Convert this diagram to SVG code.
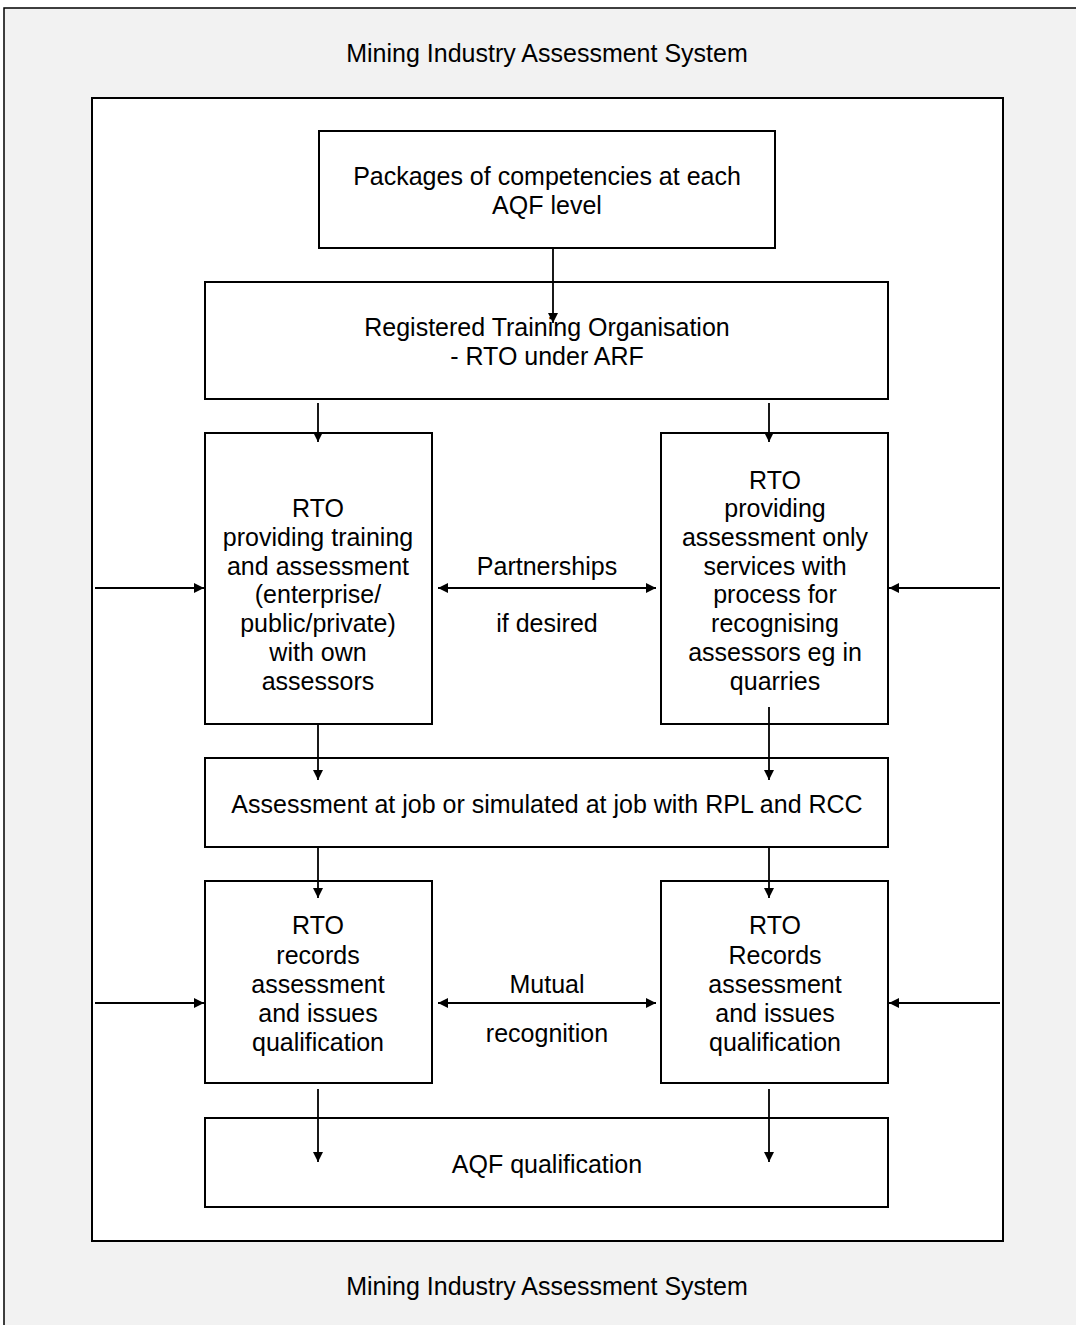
<svg xmlns="http://www.w3.org/2000/svg" width="1076" height="1325" viewBox="0 0 1076 1325">
<style>
  .box { fill: #ffffff; stroke: #000000; stroke-width: 2; }
  .t { font-family: "Liberation Sans", Arial, sans-serif; font-size: 25px; fill: #000000; text-anchor: middle; }
  .title { font-family: "Liberation Sans", Arial, sans-serif; font-size: 25px; fill: #000000; text-anchor: middle; }
  .c { stroke: #000000; stroke-width: 1.8; fill: none; }
</style>
<defs>
  <marker id="ah" viewBox="0 0 10 10" refX="10" refY="5" markerWidth="11" markerHeight="10" markerUnits="userSpaceOnUse" orient="auto-start-reverse">
    <path d="M0,0 L10,5 L0,10 z" fill="#000000"/>
  </marker>
</defs>
<rect x="0" y="0" width="1076" height="1325" fill="#ffffff"/>
<rect id="frame" x="4" y="8" width="1080" height="1330" fill="#f2f2f2" stroke="#000000" stroke-width="1.5"/>
<text class="title" x="547" y="62">Mining Industry Assessment System</text>
<rect id="system" x="92" y="98" width="911" height="1143" class="box"/>
<g id="n-packages">
  <rect class="box" x="319" y="131" width="456" height="117"/>
  <text class="t" x="547" y="185">Packages of competencies at each</text>
  <text class="t" x="547" y="214">AQF level</text>
</g>
<g id="n-rto">
  <rect class="box" x="205" y="282" width="683" height="117"/>
  <text class="t" x="547" y="336">Registered Training Organisation</text>
  <text class="t" x="547" y="365">- RTO under ARF</text>
</g>
<g id="n-rto-training">
  <rect class="box" x="205" y="433" width="227" height="291"/>
  <text class="t" x="318" y="517">RTO</text>
  <text class="t" x="318" y="546">providing training</text>
  <text class="t" x="318" y="575">and assessment</text>
  <text class="t" x="318" y="603">(enterprise/</text>
  <text class="t" x="318" y="632">public/private)</text>
  <text class="t" x="318" y="661">with own</text>
  <text class="t" x="318" y="690">assessors</text>
</g>
<g id="n-rto-assessment">
  <rect class="box" x="661" y="433" width="227" height="291"/>
  <text class="t" x="775" y="489">RTO</text>
  <text class="t" x="775" y="517">providing</text>
  <text class="t" x="775" y="546">assessment only</text>
  <text class="t" x="775" y="575">services with</text>
  <text class="t" x="775" y="603">process for</text>
  <text class="t" x="775" y="632">recognising</text>
  <text class="t" x="775" y="661">assessors eg in</text>
  <text class="t" x="775" y="690">quarries</text>
</g>
<g id="n-assessment">
  <rect class="box" x="205" y="758" width="683" height="89"/>
  <text class="t" x="547" y="813">Assessment at job or simulated at job with RPL and RCC</text>
</g>
<g id="n-records-left">
  <rect class="box" x="205" y="881" width="227" height="202"/>
  <text class="t" x="318" y="934">RTO</text>
  <text class="t" x="318" y="964">records</text>
  <text class="t" x="318" y="993">assessment</text>
  <text class="t" x="318" y="1022">and issues</text>
  <text class="t" x="318" y="1051">qualification</text>
</g>
<g id="n-records-right">
  <rect class="box" x="661" y="881" width="227" height="202"/>
  <text class="t" x="775" y="934">RTO</text>
  <text class="t" x="775" y="964">Records</text>
  <text class="t" x="775" y="993">assessment</text>
  <text class="t" x="775" y="1022">and issues</text>
  <text class="t" x="775" y="1051">qualification</text>
</g>
<g id="n-aqf">
  <rect class="box" x="205" y="1118" width="683" height="89"/>
  <text class="t" x="547" y="1173">AQF qualification</text>
</g>
<text class="title" x="547" y="1295">Mining Industry Assessment System</text>
<g id="connectors">
  <line class="c" x1="553" y1="248" x2="553" y2="323" marker-end="url(#ah)"/>
  <line class="c" x1="318" y1="403" x2="318" y2="442" marker-end="url(#ah)"/>
  <line class="c" x1="769" y1="403" x2="769" y2="442" marker-end="url(#ah)"/>
  <line class="c" x1="95" y1="588" x2="204" y2="588" marker-end="url(#ah)"/>
  <line class="c" x1="1000" y1="588" x2="889" y2="588" marker-end="url(#ah)"/>
  <line class="c" x1="438" y1="588" x2="656" y2="588" marker-start="url(#ah)" marker-end="url(#ah)"/>
  <text class="t" x="547" y="575">Partnerships</text>
  <text class="t" x="547" y="632">if desired</text>
  <line class="c" x1="318" y1="725" x2="318" y2="780" marker-end="url(#ah)"/>
  <line class="c" x1="769" y1="707" x2="769" y2="780" marker-end="url(#ah)"/>
  <line class="c" x1="318" y1="847" x2="318" y2="898" marker-end="url(#ah)"/>
  <line class="c" x1="769" y1="847" x2="769" y2="898" marker-end="url(#ah)"/>
  <line class="c" x1="95" y1="1003" x2="204" y2="1003" marker-end="url(#ah)"/>
  <line class="c" x1="1000" y1="1003" x2="889" y2="1003" marker-end="url(#ah)"/>
  <line class="c" x1="438" y1="1003" x2="656" y2="1003" marker-start="url(#ah)" marker-end="url(#ah)"/>
  <text class="t" x="547" y="993">Mutual</text>
  <text class="t" x="547" y="1042">recognition</text>
  <line class="c" x1="318" y1="1089" x2="318" y2="1162" marker-end="url(#ah)"/>
  <line class="c" x1="769" y1="1089" x2="769" y2="1162" marker-end="url(#ah)"/>
</g>
</svg>
